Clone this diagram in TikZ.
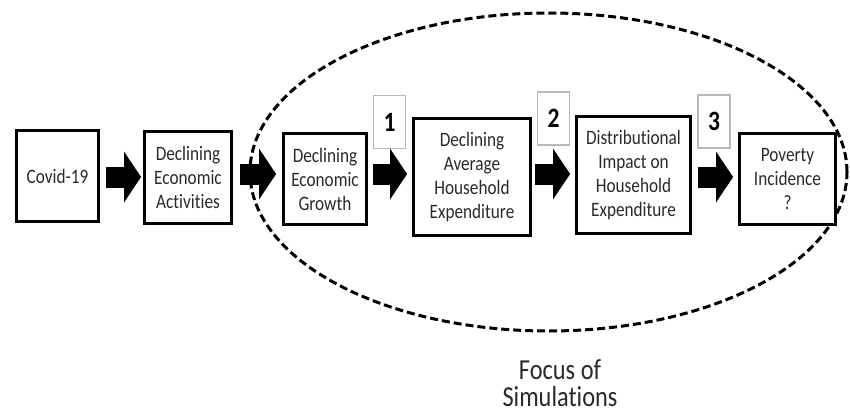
\documentclass[tikz,border=0pt]{standalone}
\usepackage{fontspec}
\setmainfont{Carlito}[FakeStretch=0.84, Ligatures=NoCommon]
\usetikzlibrary{arrows.meta,calc,shapes.geometric}
\definecolor{txt}{HTML}{2A2A2A}
\begin{document}
\begin{tikzpicture}[x=1pt,y=-1pt,
  box/.style={draw=black, line width=2.8pt, fill=white, align=center, text=txt,
    font=\fontsize{20.5}{24}\selectfont, inner sep=0pt},
  numbox/.style={draw=gray!55, line width=1.3pt, minimum width=32pt, minimum height=53pt,
    inner sep=0pt, font=\fontsize{28}{30}\selectfont\bfseries, text=black},
  fatarrow/.style={line width=21pt, -{Triangle[length=17pt,width=50pt]}},
  focusline/.style={draw=black, dash pattern=on 8pt off 4pt, line width=3pt}]
\useasboundingbox (0,0) rectangle (850,412);
\fill[white] (0,0) rectangle (850,412);

% focus ellipse
\node[ellipse, focusline, minimum width=597pt, minimum height=318pt, inner sep=0pt] (focus) at (548.5,172) {};

% boxes
\node[box, minimum width=82pt, minimum height=91pt] (covid) at (57.5,176) {Covid-19};
\node[box, minimum width=87pt, minimum height=92pt] (act) at (188,177.5) {Declining\\Economic\\Activities};
\node[box, minimum width=83pt, minimum height=91pt] (growth) at (325,179) {Declining\\Economic\\Growth};
\node[box, minimum width=117pt, minimum height=117pt] (avg) at (472,177) {Declining\\Average\\Household\\Expenditure};
\node[box, minimum width=114pt, minimum height=117pt] (dist) at (633.5,175) {Distributional\\Impact on\\Household\\Expenditure};
\node[box, minimum width=96pt, minimum height=91pt] (pov) at (787.5,179) {Poverty\\Incidence\\?};

% number labels
\node[numbox] (n1) at (389.5,122) {1};
\node[numbox] (n2) at (553.5,118.5) {2};
\node[numbox] (n3) at (714,121.5) {3};

% block arrows
\draw[fatarrow] ($(covid.east |- 0,177)+(6,0)$) -- ($(act.west |- 0,177)+(-2,0)$);
\draw[fatarrow] ($(act.east |- 0,174)+(7,0)$) -- ($(growth.west |- 0,174)+(-6,0)$);
\draw[fatarrow] ($(growth.east |- 0,174)+(5,0)$) -- ($(avg.west |- 0,174)+(-5,0)$);
\draw[fatarrow] ($(avg.east |- 0,174)+(3,0)$) -- ($(dist.west |- 0,174)+(-5,0)$);
\draw[fatarrow] ($(dist.east |- 0,177)+(6,0)$) -- ($(pov.west |- 0,177)+(-5,0)$);

% caption
\node[align=center, text=txt, font=\fontsize{29}{27}\selectfont, inner sep=0pt] (cap) at (560,383) {Focus of\\Simulations};
\end{tikzpicture}
\end{document}
